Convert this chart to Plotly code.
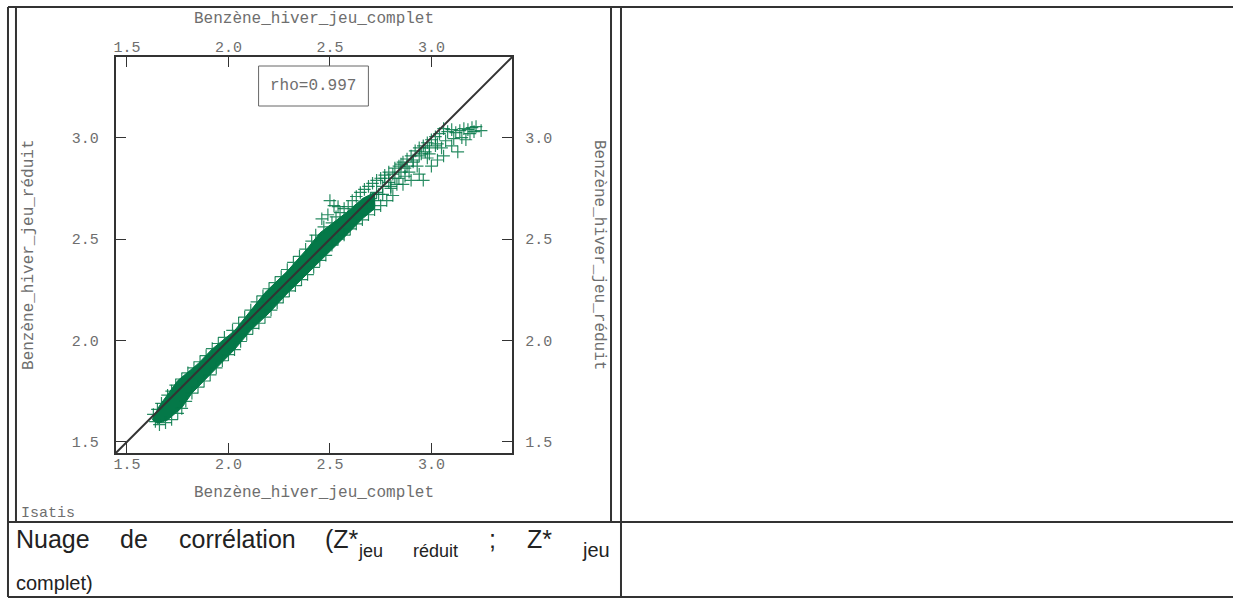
import plotly.graph_objects as go

W, H = 1233, 599

# ---------------- data ----------------
tick_vals = [1.5, 2.0, 2.5, 3.0]
tick_text = ["1.5", "2.0", "2.5", "3.0"]
axis_range = [1.445, 3.398]

x_title = "Benzène_hiver_jeu_complet"
y_title = "Benzène_hiver_jeu_réduit"
rho_label = "rho=0.997"
software_label = "Isatis"

# dense core of the cloud (envelope)
band_lower_x = [1.625, 1.65, 1.70, 1.77, 1.82, 1.92, 2.03, 2.11, 2.20, 2.29, 2.39, 2.49, 2.59, 2.66, 2.72]
band_lower_y = [1.610, 1.590, 1.608, 1.668, 1.740, 1.840, 1.955, 2.050, 2.135, 2.232, 2.330, 2.430, 2.528, 2.600, 2.650]
band_upper_x = [2.72, 2.66, 2.58, 2.50, 2.45, 2.39, 2.29, 2.18, 2.11, 2.03, 1.92, 1.85, 1.75, 1.66, 1.625]
band_upper_y = [2.730, 2.700, 2.630, 2.570, 2.530, 2.455, 2.342, 2.236, 2.146, 2.048, 1.958, 1.885, 1.802, 1.678, 1.610]

# individual points (crosses)
pts_x = [
    1.63, 1.65, 1.67, 1.70, 1.72, 1.74, 1.77, 1.80, 1.83, 1.86, 1.89, 1.92, 1.95, 1.98, 2.02, 2.05, 2.08, 2.11,
    2.14, 2.17, 2.20, 2.23, 2.26, 2.29, 2.32, 2.35, 2.38, 2.41, 2.43,
    1.64, 1.66, 1.69, 1.72, 1.75, 1.77, 1.79, 1.82, 1.85, 1.88, 1.91, 1.94, 1.97, 2.00, 2.03, 2.06, 2.09, 2.12,
    2.15, 2.18, 2.21, 2.24, 2.27, 2.30, 2.33, 2.36, 2.39, 2.42, 2.45, 2.48,
    2.46, 2.49, 2.50, 2.52, 2.54, 2.47, 2.51, 2.53, 2.55, 2.57, 2.59, 2.61, 2.63, 2.65, 2.67, 2.69, 2.71, 2.73,
    2.75, 2.77, 2.79, 2.51, 2.54, 2.57, 2.60, 2.63, 2.66, 2.69, 2.72, 2.75, 2.78, 2.81, 2.62, 2.68, 2.74, 2.80,
    2.82, 2.84, 2.86, 2.88, 2.90, 2.92, 2.94, 2.96, 2.98, 3.00, 3.02, 3.04, 3.06, 3.08, 3.10, 3.12, 3.14, 3.16,
    3.18, 3.20, 3.22, 3.245, 3.19, 3.15, 3.11, 3.07, 3.03, 2.99, 2.95, 2.91, 2.87, 2.84, 2.86, 2.90, 2.94, 2.96,
    3.00, 3.03, 3.06, 3.13, 3.05, 2.98, 2.93, 2.89, 3.10, 3.17, 3.21,
    2.70, 2.73, 2.76, 2.79, 2.82, 2.85, 2.88, 2.91, 2.94, 2.97, 2.72, 2.76, 2.80, 2.83, 2.87, 2.77, 2.81, 2.85,
    2.99, 3.02,
]
pts_y = [
    1.635, 1.66, 1.69, 1.73, 1.75, 1.78, 1.81, 1.84, 1.865, 1.895, 1.925, 1.96, 1.985, 2.015, 2.05, 2.085, 2.115, 2.15,
    2.19, 2.22, 2.255, 2.285, 2.315, 2.35, 2.385, 2.415, 2.45, 2.49, 2.52,
    1.60, 1.585, 1.595, 1.61, 1.64, 1.665, 1.70, 1.74, 1.77, 1.80, 1.83, 1.865, 1.90, 1.93, 1.955, 1.995, 2.03, 2.06,
    2.085, 2.115, 2.15, 2.185, 2.215, 2.245, 2.27, 2.30, 2.325, 2.36, 2.395, 2.42,
    2.60, 2.62, 2.69, 2.665, 2.66, 2.56, 2.58, 2.61, 2.63, 2.65, 2.66, 2.69, 2.71, 2.73, 2.745, 2.76, 2.775, 2.79,
    2.80, 2.815, 2.83, 2.47, 2.50, 2.52, 2.55, 2.575, 2.595, 2.62, 2.645, 2.665, 2.69, 2.715, 2.63, 2.68, 2.72, 2.76,
    2.85, 2.86, 2.88, 2.895, 2.91, 2.935, 2.95, 2.96, 2.975, 2.99, 3.005, 3.02, 3.045, 3.03, 3.04, 3.025, 3.035, 3.045,
    3.04, 3.05, 3.055, 3.035, 3.02, 3.00, 2.995, 2.985, 2.97, 2.95, 2.92, 2.89, 2.85, 2.80, 2.77, 2.79, 2.82, 2.79,
    2.86, 2.89, 2.91, 2.93, 2.95, 2.90, 2.86, 2.83, 2.96, 2.99, 3.03,
    2.70, 2.73, 2.76, 2.78, 2.80, 2.83, 2.86, 2.88, 2.91, 2.93, 2.69, 2.72, 2.75, 2.77, 2.81, 2.80, 2.82, 2.87,
    2.92, 2.96,
]

# caption words: (text, left px, centre px, font size)
caption_words = [
    ("Nuage", 12, 539, 25),
    ("de", 116, 539, 25),
    ("corrélation", 175, 539, 25),
    ("(Z*", 322, 539, 25),
    ("jeu", 355, 551, 18),
    ("réduit", 410, 551, 18),
    (";", 486, 539, 25),
    ("Z*", 524, 539, 25),
    ("jeu", 579, 550, 20),
    ("complet)", 12, 583, 20),
]

# ---------------- figure ----------------
GREEN = "rgb(4,120,72)"
DARK = "#333333"
GREY = "#6e6e6e"
MONO = "Liberation Mono, Courier New, monospace"
SANS = "Liberation Sans, Arial, sans-serif"


def fx(p):
    return p / W


def fy(p):
    return 1 - p / H


fig = go.Figure()

fig.add_trace(go.Scatter(
    x=band_lower_x + band_upper_x,
    y=band_lower_y + band_upper_y,
    fill="toself", fillcolor=GREEN, mode="lines",
    line=dict(color=GREEN, width=1), hoverinfo="skip", showlegend=False,
))
fig.add_trace(go.Scatter(
    x=pts_x, y=pts_y, mode="markers",
    marker=dict(symbol="cross-thin-open", size=9, color="rgba(4,120,72,0.85)",
                line=dict(color="rgba(4,120,72,0.85)", width=1.2)),
    showlegend=False,
))
fig.add_trace(go.Scatter(
    x=axis_range, y=axis_range, mode="lines", xaxis="x2", yaxis="y2",
    line=dict(color=DARK, width=2), showlegend=False, hoverinfo="skip",
))

dom_x = [fx(114), fx(511)]
dom_y = [fy(453), fy(57)]
tickfont = dict(family=MONO, size=15, color=GREY)
common = dict(range=axis_range, tickvals=tick_vals, ticktext=tick_text, ticks="inside",
              ticklen=10, tickwidth=1, tickcolor=DARK, showgrid=False, zeroline=False,
              tickfont=tickfont, fixedrange=True)

fig.update_layout(
    width=W, height=H, autosize=False,
    margin=dict(l=0, r=0, t=0, b=0),
    paper_bgcolor="white", plot_bgcolor="white",
    showlegend=False,
    xaxis=dict(domain=dom_x, anchor="y", showline=True, linecolor=DARK, linewidth=2,
               mirror=True, ticklabelstandoff=-4, **common),
    yaxis=dict(domain=dom_y, anchor="x", showline=True, linecolor=DARK, linewidth=2,
               mirror=True, ticklabelstandoff=12, **common),
    xaxis2=dict(overlaying="x", side="top", anchor="y", showline=False,
                ticklabelstandoff=1, **common),
    yaxis2=dict(overlaying="y", side="right", anchor="x", showline=False,
                ticklabelstandoff=12, **common),
)

shapes = []
line_style = dict(color=DARK, width=2)
# table borders
shapes.append(dict(type="line", xref="paper", yref="paper", x0=fx(6), x1=fx(1233), y0=fy(7), y1=fy(7), line=line_style))
shapes.append(dict(type="line", xref="paper", yref="paper", x0=fx(6), x1=fx(1233), y0=fy(522), y1=fy(522), line=line_style))
shapes.append(dict(type="line", xref="paper", yref="paper", x0=fx(6), x1=fx(1233), y0=fy(597), y1=fy(597), line=line_style))
shapes.append(dict(type="line", xref="paper", yref="paper", x0=fx(6), x1=fx(6), y0=fy(7), y1=fy(597), line=line_style))
shapes.append(dict(type="line", xref="paper", yref="paper", x0=fx(620), x1=fx(620), y0=fy(7), y1=fy(597), line=line_style))
# chart image frame
shapes.append(dict(type="line", xref="paper", yref="paper", x0=fx(14), x1=fx(14), y0=fy(7), y1=fy(522), line=line_style))
shapes.append(dict(type="line", xref="paper", yref="paper", x0=fx(610), x1=fx(610), y0=fy(7), y1=fy(522), line=line_style))
# rho box
shapes.append(dict(type="rect", xref="paper", yref="paper", x0=fx(257), x1=fx(367), y0=fy(106), y1=fy(66),
                   line=dict(color="#666666", width=1), fillcolor="white"))
fig.update_layout(shapes=shapes)

ann = []
titlefont = dict(family=MONO, size=16, color=GREY)
ann.append(dict(text=x_title, x=fx(313), y=fy(19), xref="paper", yref="paper", showarrow=False,
                xanchor="center", yanchor="middle", font=titlefont))
ann.append(dict(text=x_title, x=fx(313), y=fy(493), xref="paper", yref="paper", showarrow=False,
                xanchor="center", yanchor="middle", font=titlefont))
ann.append(dict(text=y_title, x=fx(27), y=fy(255), xref="paper", yref="paper", showarrow=False,
                xanchor="center", yanchor="middle", textangle=-90, font=titlefont))
ann.append(dict(text=y_title, x=fx(598), y=fy(255), xref="paper", yref="paper", showarrow=False,
                xanchor="center", yanchor="middle", textangle=90, font=titlefont))
ann.append(dict(text=rho_label, x=fx(312), y=fy(86), xref="paper", yref="paper", showarrow=False,
                xanchor="center", yanchor="middle", font=titlefont))
ann.append(dict(text=software_label, x=fx(17), y=fy(513), xref="paper", yref="paper", showarrow=False,
                xanchor="left", yanchor="middle", font=dict(family=MONO, size=15, color=GREY)))
for txt, left, cy, size in caption_words:
    ann.append(dict(text=txt, x=fx(left), y=fy(cy), xref="paper", yref="paper", showarrow=False,
                    xanchor="left", yanchor="middle", font=dict(family=SANS, size=size, color="#222222")))
fig.update_layout(annotations=ann)

fig.write_html(
    "out.html",
    config={"displayModeBar": False},
    post_script="document.body.style.margin='0';document.body.style.padding='0';document.body.style.overflow='hidden';",
)
